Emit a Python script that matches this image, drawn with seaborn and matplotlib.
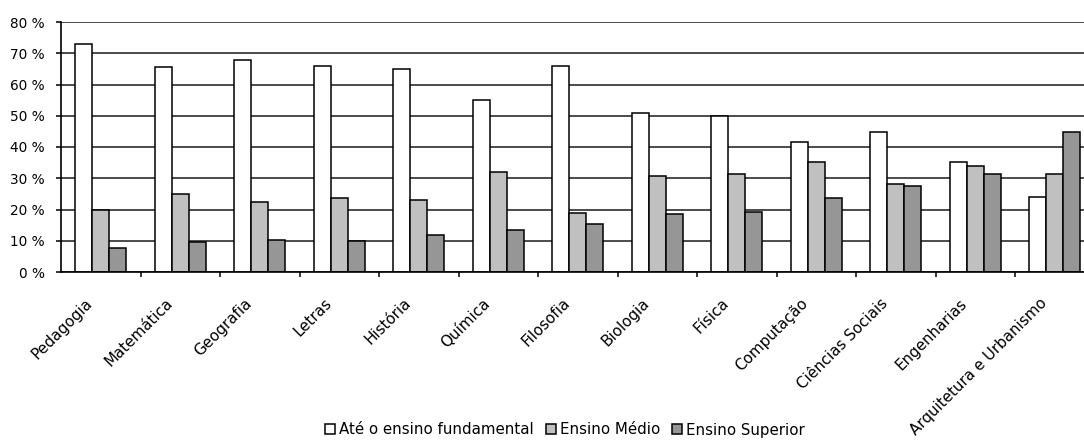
import matplotlib
matplotlib.use("Agg")
import matplotlib.pyplot as plt
import matplotlib.transforms as mtransforms
import seaborn as sns
import pandas as pd
from matplotlib.ticker import FixedLocator, FuncFormatter

# Courses and the share of each parental education level
cursos = ["Pedagogia", "Matemática", "Geografia", "Letras", "História", "Química",
          "Filosofia", "Biologia", "Física", "Computação", "Ciências Sociais",
          "Engenharias", "Arquitetura e Urbanismo"]
niveis = ["Até o ensino fundamental", "Ensino Médio", "Ensino Superior"]
fundamental = [73, 65.5, 68, 66, 65, 55, 66, 51, 50, 41.5, 44.7, 35.1, 24.1]
medio = [20, 25, 22.4, 23.6, 23, 32, 19, 30.7, 31.4, 35.1, 28.1, 33.9, 31.4]
superior = [7.6, 9.7, 10.2, 10, 12, 13.4, 15.3, 18.5, 19.3, 23.6, 27.5, 31.4, 44.7]
cores = ["#FFFFFF", "#C0C0C0", "#969696"]
yticks = [0, 10, 20, 30, 40, 50, 60, 70, 80]

df = pd.DataFrame({
    "curso": cursos * 3,
    "nivel": [niveis[0]] * len(cursos) + [niveis[1]] * len(cursos) + [niveis[2]] * len(cursos),
    "valor": fundamental + medio + superior,
})

sns.set_style("white")
plt.rcParams["font.family"] = ["DejaVu Sans"]
plt.rcParams["text.color"] = "black"
plt.rcParams["xtick.color"] = "black"
plt.rcParams["ytick.color"] = "black"
plt.rcParams["xtick.labelcolor"] = "black"
plt.rcParams["ytick.labelcolor"] = "black"

fig = plt.figure(figsize=(10.84, 4.47), dpi=100)
ax = fig.add_axes([61 / 1084, 175 / 447, 1 - 61 / 1084, 250 / 447])

sns.barplot(data=df, x="curso", y="valor", hue="nivel", hue_order=niveis,
            palette=cores, width=0.64, gap=0, edgecolor="black", linewidth=1.1,
            saturation=1, ax=ax, errorbar=None)

ax.set_ylim(0, 80)
ax.set_xlim(-0.5, -0.5 + (1084 - 61) / 79.5)
ax.set_xlabel("")
ax.set_ylabel("")

# Horizontal gridlines behind the bars
ax.set_axisbelow(True)
ax.yaxis.set_major_locator(FixedLocator(yticks))
ax.yaxis.set_major_formatter(FuncFormatter(lambda v, p: f"{int(v)} %"))
ax.yaxis.grid(True, color="#1a1a1a", linewidth=1.1)
ax.xaxis.grid(False)

for side in ["top", "right"]:
    ax.spines[side].set_visible(False)
for side in ["left", "bottom"]:
    ax.spines[side].set_visible(True)
    ax.spines[side].set_color("black")
    ax.spines[side].set_linewidth(1.2)

ax.tick_params(axis="y", which="major", direction="out", length=3.5, width=1.1,
               color="black", labelcolor="black", pad=8, labelsize=9.8, left=True)

# Category labels at the centres, tick marks between categories
ax.set_xticks(range(len(cursos)))
ax.set_xticklabels(cursos, rotation=45, ha="right", rotation_mode="default")
ax.tick_params(axis="x", which="major", length=0, pad=17, labelsize=10.9,
               labelcolor="black")
shift = mtransforms.ScaledTranslation(-5 / 100, 0, fig.dpi_scale_trans)
for lab in ax.get_xticklabels():
    lab.set_transform(lab.get_transform() + shift)
ax.xaxis.set_minor_locator(FixedLocator([i + 0.5 for i in range(len(cursos) - 1)]))
ax.tick_params(axis="x", which="minor", direction="out", length=3.5, width=1.1,
               color="black", bottom=True)

handles, labels = ax.get_legend_handles_labels()
ax.get_legend().remove()
leg = fig.legend(handles, labels, loc="center", bbox_to_anchor=(565 / 1084, 1 - 430 / 447),
                 ncol=3, frameon=False, handlelength=0.65, handleheight=0.65,
                 handletextpad=0.3, columnspacing=0.8, fontsize=10.8, borderpad=0)
for t in leg.get_texts():
    t.set_color("black")

fig.savefig("out.png", dpi=100)
